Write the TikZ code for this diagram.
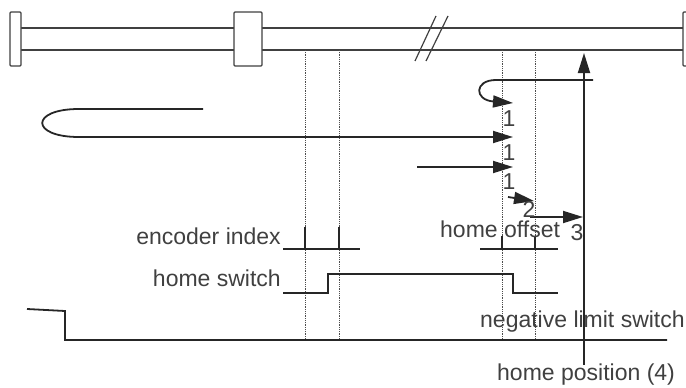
\documentclass[tikz,border=0pt]{standalone}
\usepackage{fontspec}
\setmainfont{Liberation Sans}
\usetikzlibrary{arrows.meta}
\newcommand*{\stepno}[3]{%
  \node [num] (#1) at (#2) {#3};
}

\begin{document}
\begin{tikzpicture}[x=1pt, y=-1pt,
    rail/.style = {draw=black!75, line width=1.2pt},
    stopper/.style = {rail, fill=white, rounded corners=1pt},
    guide/.style = {draw=black!70, densely dotted, line width=0.8pt},
    sig/.style = {draw=black!85, line width=1.8pt},
    move/.style = {sig, -{Triangle[length=20pt,width=12pt]}},
    txt/.style = {text=black!75, font=\fontsize{23}{27}\selectfont, inner sep=0pt},
    num/.style = {txt, anchor=base}]
    \useasboundingbox (0,0) rectangle (686,388);
    % rail with stoppers and slider
    \draw[rail] (21,28) -- (683,28) (21,50) -- (683,50);
    \draw[rail] (415,61) -- (436,16) (426,61) -- (448,16);
    \draw[stopper] (10,12) rectangle (21,66);
    \draw[stopper] (234,12) rectangle (262,66);
    \draw[stopper] (683,12) rectangle (694,66);
    % index positions
    \foreach \x in {305,339,502,535}
        \draw[guide] (\x,50) -- (\x,340);
    % homing moves
    \draw[sig] (203,109) -- (79,109) .. controls (30,109) and (30,137) .. (79,137);
    \draw[move] (79,137) -- (513,137);
    \draw[move] (593,80) -- (496,80) .. controls (474,80) and (474,100) .. (513,103);
    \draw[move] (417,167) -- (513,167);
    \draw[move] (508,197) -- (534,201);
    \draw[move] (530,217) -- (583,217);
    \draw[move] (584,365) -- (584,53);
    \stepno{s1a}{509,126}{1}
    \stepno{s1b}{509,160}{1}
    \stepno{s1c}{509,189}{1}
    \stepno{s2}{529,217}{2}
    \stepno{s3}{577,240}{3}
    % signals
    \draw[sig] (283,249) -- (360,249) (305,227) -- (305,249) (339,227) -- (339,249);
    \draw[sig] (480,249) -- (558,249) (502,236) -- (502,249) (535,236) -- (535,249);
    \draw[sig] (283,293) -- (328,293) -- (328,274) -- (513,274) -- (513,293) -- (558,293);
    \draw[sig] (27,309) -- (65,311) -- (65,340) -- (667,340);
    \node[txt, anchor=base east] (enc) at (281,244) {encoder index};
    \node[txt, anchor=base east] (hsw) at (281,286) {home switch};
    \node[txt, anchor=base west] (hoff) at (440,237) {home offset};
    \node[txt, anchor=base west] (nls) at (480,327) {negative limit switch};
    \node[txt, anchor=base west] (hpos) at (497,380) {home position (4)};
\end{tikzpicture}
\end{document}
